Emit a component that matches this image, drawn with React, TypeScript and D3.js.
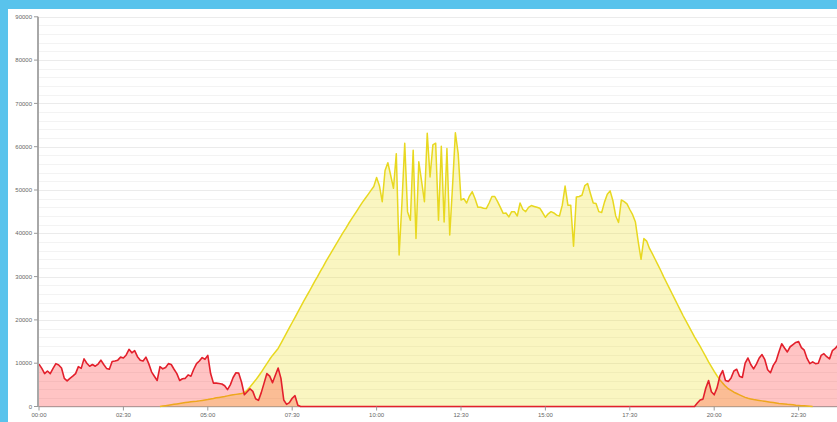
import React from 'react';
import * as d3 from 'd3';

// 5-minute samples starting at 00:00
const gridImport: number[] = [
  9800, 8800, 7600, 8200, 7600, 8800, 9900, 9600, 8900, 6500,
  5900, 6500, 7000, 7600, 9200, 8800, 11000, 10000, 9300, 9700,
  9300, 9800, 10700, 9700, 8800, 8600, 10400, 10500, 10700, 11400,
  11200, 11900, 13200, 12400, 12900, 11500, 10700, 10500, 11400, 9900,
  8000, 7000, 6000, 9200, 8700, 9000, 9900, 9700, 8600, 7600,
  6000, 6400, 6500, 7300, 7000, 8600, 9900, 10500, 11300, 10900,
  11800, 7600, 5400, 5400, 5300, 5200, 4800, 3900, 5000, 6700,
  7800, 7700, 5600, 2700, 3400, 4100, 3500, 1800, 1400, 3200,
  5400, 7600, 7000, 5500, 7200, 8900, 6500, 1500, 500, 900,
  1900, 2500, 300, 0, 0, 0, 0, 0, 0, 0,
  0, 0, 0, 0, 0, 0, 0, 0, 0, 0,
  0, 0, 0, 0, 0, 0, 0, 0, 0, 0,
  0, 0, 0, 0, 0, 0, 0, 0, 0, 0,
  0, 0, 0, 0, 0, 0, 0, 0, 0, 0,
  0, 0, 0, 0, 0, 0, 0, 0, 0, 0,
  0, 0, 0, 0, 0, 0, 0, 0, 0, 0,
  0, 0, 0, 0, 0, 0, 0, 0, 0, 0,
  0, 0, 0, 0, 0, 0, 0, 0, 0, 0,
  0, 0, 0, 0, 0, 0, 0, 0, 0, 0,
  0, 0, 0, 0, 0, 0, 0, 0, 0, 0,
  0, 0, 0, 0, 0, 0, 0, 0, 0, 0,
  0, 0, 0, 0, 0, 0, 0, 0, 0, 0,
  0, 0, 0, 0, 0, 0, 0, 0, 0, 0,
  0, 0, 0, 0, 800, 1500, 1700, 4200, 6000, 3400,
  2700, 4300, 7000, 8300, 6000, 5800, 6600, 8200, 8600, 7000,
  6700, 10000, 11200, 9700, 8700, 9800, 11200, 12000, 10800, 8500,
  7800, 9500, 10500, 12600, 14500, 13500, 12600, 13800, 14300, 14800,
  15000, 13600, 13000, 11100, 9900, 10300, 9900, 10000, 11800, 12200,
  11500, 11000, 12900, 13400, 14200, 13500, 12800, 13200,
];

// solar production, 5-minute samples starting at solarStart
const solarStart = '03:35';
const solarProduction: number[] = [
  0, 100, 200, 300, 400, 500, 600, 700, 800, 900,
  1000, 1100, 1150, 1200, 1300, 1400, 1500, 1600, 1750, 1850,
  2000, 2100, 2200, 2300, 2450, 2600, 2700, 2800, 2900, 3000,
  3200, 3800, 4500, 5300, 6100, 7000, 7900, 8900, 9900, 10900,
  11800, 12600, 13400, 14600, 15800, 17000, 18200, 19400, 20600, 21800,
  23000, 24200, 25400, 26500, 27700, 28900, 30000, 31200, 32300, 33500,
  34600, 35700, 36800, 37900, 39000, 40100, 41100, 42200, 43200, 44200,
  45200, 46200, 47200, 48100, 49000, 49900, 50800, 52900, 51000, 47300,
  54500, 56300, 53400, 50400, 58400, 35000, 46900, 60800, 45000, 43000,
  59200, 38800, 56500, 52000, 47300, 63100, 53000, 60400, 60800, 43000,
  60100, 42600, 59600, 39600, 51000, 63200, 58400, 47700, 48000, 47000,
  48600, 49600, 48000, 46000, 46000, 45800, 45700, 47000, 48500, 48500,
  47300, 46000, 44600, 44700, 43800, 45000, 45000, 44000, 47000, 45500,
  45000, 46000, 46400, 46200, 46000, 45800, 44800, 43700, 44500, 45000,
  44700, 44200, 44000, 46500, 50900, 46500, 46500, 37000, 48400, 48500,
  48800, 51000, 51500, 49200, 47000, 46900, 45000, 44800, 47200, 49000,
  49800, 47500, 44000, 42500, 47700, 47300, 46800, 45500, 44300, 42600,
  38000, 34000, 38800, 38200, 36500, 35300, 34000, 32700, 31400, 30000,
  28700, 27400, 26100, 24800, 23500, 22200, 20900, 19700, 18500, 17300,
  16100, 15000, 13900, 12700, 11500, 10300, 9200, 8100, 7100, 6200,
  5400, 4700, 4100, 3700, 3300, 3000, 2700, 2400, 2100, 1900,
  1750, 1600, 1500, 1400, 1300, 1200, 1100, 1000, 900, 800,
  700, 650, 600, 500, 450, 400, 300, 250, 200, 150,
  100, 50, 0,
];

const xTickLabels = ['00:00', '02:30', '05:00', '07:30', '10:00', '12:30', '15:00', '17:30', '20:00', '22:30'];
const yTickValues = [0, 10000, 20000, 30000, 40000, 50000, 60000, 70000, 80000, 90000];
const yGridStep = 2000;
const stepMinutes = 5;

const toMin = (s: string) => {
  const [h, m] = s.split(':').map(Number);
  return h * 60 + m;
};

export default function App() {
  const W = 837;
  const H = 422;
  const x = d3.scaleLinear().domain([0, 1440]).range([39, 39 + 24 * 33.76]);
  const y = d3.scaleLinear().domain([0, 90000]).range([406.5, 16.8]);

  const gridPts = gridImport.map((v, i) => ({ t: i * stepMinutes, v }));
  const s0 = toMin(solarStart);
  const solarPts = solarProduction.map((v, i) => ({ t: s0 + i * stepMinutes, v }));

  const area = d3
    .area<{ t: number; v: number }>()
    .x((d) => x(d.t))
    .y0(y(0))
    .y1((d) => y(d.v));
  const line = d3
    .line<{ t: number; v: number }>()
    .x((d) => x(d.t))
    .y((d) => y(d.v));

  const gridLines = d3.range(0, 90000 + 1, yGridStep);
  const font = 'Liberation Sans, Arial, sans-serif';

  return (
    <div style={{ position: 'fixed', left: 0, top: 0 }}>
      <svg width={W} height={H} style={{ display: 'block' }}>
        <defs>
          <clipPath id="plot">
            <rect x={0} y={0} width={W} height={H} />
          </clipPath>
        </defs>
        <rect x={0} y={0} width={W} height={H} fill="#59c3ec" />
        <rect x={8} y={9} width={W - 8} height={H - 9} fill="#ffffff" />
        <g clipPath="url(#plot)">
          {gridLines.map((g) => (
            <line
              key={g}
              x1={39}
              x2={W}
              y1={Math.round(y(g)) + 0.5}
              y2={Math.round(y(g)) + 0.5}
              stroke={g % 10000 === 0 ? '#ebebeb' : '#f3f3f3'}
              strokeWidth={1}
            />
          ))}
          <line x1={38} x2={W} y1={y(0)} y2={y(0)} stroke="#aaaaaa" strokeWidth={1} />
          <path d={area(solarPts) || ''} fill="rgba(238,224,50,0.3)" />
          <path d={line(solarPts) || ''} fill="none" stroke="#e8d820" strokeWidth={1.5} strokeLinejoin="round" />
          <path d={area(gridPts) || ''} fill="rgba(255,20,20,0.25)" />
          <path d={line(gridPts) || ''} fill="none" stroke="#e3202c" strokeWidth={1.6} strokeLinejoin="round" />
        </g>
        {/* y axis */}
        <line x1={38} x2={38} y1={y(0) + 0.5} y2={y(90000)} stroke="#a8a8a8" strokeWidth={2} />
        {yTickValues.map((v) => (
          <g key={v}>
            <line x1={34} x2={38} y1={y(v)} y2={y(v)} stroke="#999" strokeWidth={1} />
            <text
              x={32}
              y={y(v)}
              dy="0.35em"
              textAnchor="end"
              fontSize={6}
              fill="#666"
              fontFamily={font}
            >
              {v}
            </text>
          </g>
        ))}
        {/* x axis */}
        {xTickLabels.map((lab) => {
          const px = x(toMin(lab));
          return (
            <g key={lab}>
              <line x1={px} x2={px} y1={y(0)} y2={y(0) + 4} stroke="#999" strokeWidth={1} />
              <text x={px} y={416.5} textAnchor="middle" fontSize={6} fill="#666" fontFamily={font}>
                {lab}
              </text>
            </g>
          );
        })}
      </svg>
    </div>
  );
}
